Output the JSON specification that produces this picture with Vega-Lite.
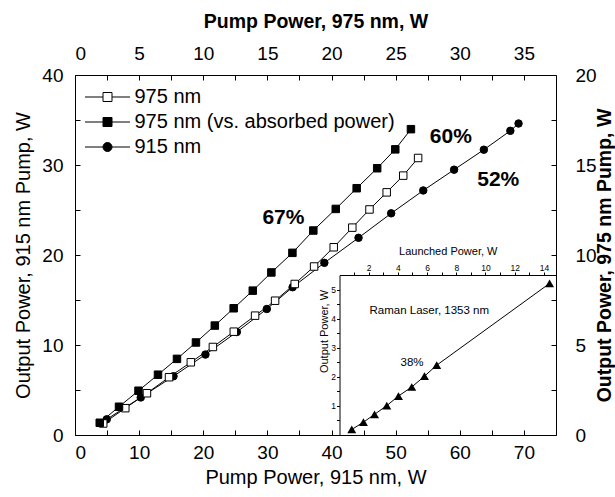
{
  "$schema": "https://vega.github.io/schema/vega-lite/v6.json",
  "width": 481,
  "height": 360,
  "autosize": {"type": "none"},
  "padding": {"left": 75, "top": 75, "right": 59, "bottom": 62},
  "background": "white",
  "config": {
    "view": {"stroke": null},
    "axis": {
      "domainColor": "black", "domainWidth": 1,
      "tickColor": "black", "tickWidth": 1,
      "labelColor": "black", "titleColor": "black",
      "labelFont": "Liberation Sans", "titleFont": "Liberation Sans",
      "grid": false
    },
    "text": {"font": "Liberation Sans", "color": "black"}
  },
  "datasets": {
    "pump915": [
      {"series": "915 nm", "pump": 4.95, "out": 1.74},
      {"series": "915 nm", "pump": 10.25, "out": 4.17},
      {"series": "915 nm", "pump": 15.36, "out": 6.53},
      {"series": "915 nm", "pump": 20.34, "out": 8.94},
      {"series": "915 nm", "pump": 25.23, "out": 11.44},
      {"series": "915 nm", "pump": 29.91, "out": 14.0},
      {"series": "915 nm", "pump": 33.93, "out": 16.42},
      {"series": "915 nm", "pump": 38.88, "out": 19.13},
      {"series": "915 nm", "pump": 44.21, "out": 21.91},
      {"series": "915 nm", "pump": 49.30, "out": 24.63},
      {"series": "915 nm", "pump": 54.30, "out": 27.17},
      {"series": "915 nm", "pump": 59.11, "out": 29.48},
      {"series": "915 nm", "pump": 63.75, "out": 31.7},
      {"series": "915 nm", "pump": 67.88, "out": 33.8},
      {"series": "915 nm", "pump": 69.16, "out": 34.61}
    ],
    "pump975": [
      {"series": "975 nm", "pump": 2.20, "out": 0.64},
      {"series": "975 nm", "pump": 3.92, "out": 1.49},
      {"series": "975 nm", "pump": 5.61, "out": 2.32},
      {"series": "975 nm", "pump": 7.33, "out": 3.21},
      {"series": "975 nm", "pump": 9.03, "out": 4.04},
      {"series": "975 nm", "pump": 10.75, "out": 4.89},
      {"series": "975 nm", "pump": 12.38, "out": 5.74},
      {"series": "975 nm", "pump": 14.04, "out": 6.63},
      {"series": "975 nm", "pump": 15.60, "out": 7.46},
      {"series": "975 nm", "pump": 17.13, "out": 8.39},
      {"series": "975 nm", "pump": 18.64, "out": 9.36},
      {"series": "975 nm", "pump": 20.17, "out": 10.43},
      {"series": "975 nm", "pump": 21.62, "out": 11.52},
      {"series": "975 nm", "pump": 22.96, "out": 12.53},
      {"series": "975 nm", "pump": 24.30, "out": 13.48},
      {"series": "975 nm", "pump": 25.59, "out": 14.41},
      {"series": "975 nm", "pump": 26.75, "out": 15.39},
      {"series": "975 nm (vs. absorbed power)", "pump": 1.93, "out": 0.68},
      {"series": "975 nm (vs. absorbed power)", "pump": 3.43, "out": 1.57},
      {"series": "975 nm (vs. absorbed power)", "pump": 4.95, "out": 2.46},
      {"series": "975 nm (vs. absorbed power)", "pump": 6.47, "out": 3.35},
      {"series": "975 nm (vs. absorbed power)", "pump": 7.95, "out": 4.23},
      {"series": "975 nm (vs. absorbed power)", "pump": 9.43, "out": 5.14},
      {"series": "975 nm (vs. absorbed power)", "pump": 10.90, "out": 6.08},
      {"series": "975 nm (vs. absorbed power)", "pump": 12.37, "out": 7.04},
      {"series": "975 nm (vs. absorbed power)", "pump": 13.86, "out": 8.02},
      {"series": "975 nm (vs. absorbed power)", "pump": 15.31, "out": 9.03},
      {"series": "975 nm (vs. absorbed power)", "pump": 16.95, "out": 10.12},
      {"series": "975 nm (vs. absorbed power)", "pump": 18.58, "out": 11.36},
      {"series": "975 nm (vs. absorbed power)", "pump": 20.33, "out": 12.56},
      {"series": "975 nm (vs. absorbed power)", "pump": 21.96, "out": 13.71},
      {"series": "975 nm (vs. absorbed power)", "pump": 23.56, "out": 14.82},
      {"series": "975 nm (vs. absorbed power)", "pump": 24.97, "out": 15.87},
      {"series": "975 nm (vs. absorbed power)", "pump": 26.19, "out": 16.99}
    ],
    "raman": [
      {"launched": 0.84, "out": 0.19},
      {"launched": 1.64, "out": 0.44},
      {"launched": 2.40, "out": 0.71},
      {"launched": 3.24, "out": 1.01},
      {"launched": 4.04, "out": 1.34},
      {"launched": 4.95, "out": 1.65},
      {"launched": 5.82, "out": 2.02},
      {"launched": 6.66, "out": 2.40},
      {"launched": 14.39, "out": 5.21}
    ],
    "mainNotes": [
      {"label": "67%", "pump": 32.5, "out": 24.1},
      {"label": "60%", "pump": 58.6, "out": 33.1},
      {"label": "52%", "pump": 66.0, "out": 28.3}
    ],
    "insetNotes": [
      {"label": "38%", "launched": 4.97, "out": 2.49},
      {"label": "Raman Laser, 1353 nm", "launched": 6.15, "out": 4.26}
    ]
  },
  "layer": [
    {
      "data": {"name": "pump915"},
      "encoding": {
        "x": {
          "field": "pump", "type": "quantitative",
          "scale": {"domain": [0, 75], "nice": false, "zero": false},
          "axis": {
            "orient": "bottom", "title": "Pump Power, 915 nm, W",
            "values": [0, 5, 10, 15, 20, 25, 30, 35, 40, 45, 50, 55, 60, 65, 70],
            "labelExpr": "datum.value % 10 === 0 ? datum.label : ''",
            "tickSize": -5, "labelPadding": 13, "labelFontSize": 19,
            "titleFontSize": 20, "titleFontWeight": "normal", "titlePadding": 5
          }
        },
        "y": {
          "field": "out", "type": "quantitative",
          "scale": {"domain": [0, 40], "nice": false, "zero": false},
          "axis": {
            "orient": "left", "title": "Output Power, 915 nm Pump, W",
            "values": [0, 5, 10, 15, 20, 25, 30, 35, 40],
            "labelExpr": "datum.value % 10 === 0 ? datum.label : ''",
            "tickSize": -5, "labelPadding": 17, "labelFontSize": 19,
            "titleFontSize": 20, "titleFontWeight": "normal", "titlePadding": 8
          }
        }
      },
      "layer": [
        {"mark": {"type": "line", "color": "black", "strokeWidth": 1}, "encoding": {}},
        {
          "mark": {"type": "point", "filled": true, "stroke": "black", "strokeWidth": 1, "size": 56, "opacity": 1},
          "encoding": {
            "shape": {
              "field": "series", "type": "nominal",
              "scale": {"domain": ["915 nm", "975 nm", "975 nm (vs. absorbed power)"], "range": ["circle", "square", "square"]},
              "legend": null
            },
            "fill": {
              "field": "series", "type": "nominal",
              "scale": {"domain": ["975 nm", "975 nm (vs. absorbed power)", "915 nm"], "range": ["white", "black", "black"]},
              "legend": {
                "orient": "none", "legendX": 2.5, "legendY": 12, "title": null,
                "padding": 0, "rowPadding": 5,
                "labelFont": "Liberation Sans", "labelFontSize": 20, "labelColor": "black", "labelLimit": 400,
                "symbolSize": 81, "symbolStrokeColor": "black", "symbolStrokeWidth": 1,
                "symbolOffset": 20, "labelOffset": 17,
                "symbolType": {"expr": "datum.value === '915 nm' ? 'M-5,0H-1M1,0H5M-1,0A1,1,0,1,1,1,0A1,1,0,1,1,-1,0Z' : 'M-5,0H-1M1,0H5M-1,-1H1V1H-1Z'"}
              }
            }
          }
        },
        {
          "data": {"name": "mainNotes"},
          "mark": {"type": "text", "font": "Liberation Sans", "fontWeight": "bold", "fontSize": 21, "align": "center", "baseline": "middle"},
          "encoding": {"text": {"field": "label"}}
        }
      ]
    },
    {
      "data": {"name": "pump975"},
      "encoding": {
        "x": {
          "field": "pump", "type": "quantitative",
          "scale": {"domain": [0, 37.5], "nice": false, "zero": false},
          "axis": {
            "orient": "top", "title": "Pump Power, 975 nm, W",
            "values": [0, 2.5, 5, 7.5, 10, 12.5, 15, 17.5, 20, 22.5, 25, 27.5, 30, 32.5, 35],
            "labelExpr": "datum.value % 5 === 0 ? datum.label : ''",
            "tickSize": -5, "labelPadding": 17, "labelFontSize": 19,
            "titleFontSize": 19.5, "titleFontWeight": "bold", "titlePadding": 13
          }
        },
        "y": {
          "field": "out", "type": "quantitative",
          "scale": {"domain": [0, 20], "nice": false, "zero": false},
          "axis": {
            "orient": "right", "title": "Output Power, 975 nm Pump, W",
            "values": [0, 2.5, 5, 7.5, 10, 12.5, 15, 17.5, 20],
            "labelExpr": "datum.value % 5 === 0 ? datum.label : ''",
            "tickSize": -5, "labelPadding": 24, "labelFontSize": 19,
            "titleFontSize": 19.5, "titleFontWeight": "bold",
            "titleAngle": 270, "titleBaseline": "top", "titlePadding": -1
          }
        }
      },
      "layer": [
        {"mark": {"type": "line", "color": "black", "strokeWidth": 1}, "encoding": {"detail": {"field": "series"}}},
        {
          "mark": {"type": "point", "filled": true, "stroke": "black", "strokeWidth": 1, "size": 56, "opacity": 1},
          "encoding": {
            "shape": {
              "field": "series", "type": "nominal",
              "scale": {"domain": ["915 nm", "975 nm", "975 nm (vs. absorbed power)"], "range": ["circle", "square", "square"]},
              "legend": null
            },
            "fill": {
              "field": "series", "type": "nominal",
              "scale": {"domain": ["975 nm", "975 nm (vs. absorbed power)", "915 nm"], "range": ["white", "black", "black"]},
              "legend": {
                "orient": "none", "legendX": 2.5, "legendY": 12, "title": null,
                "padding": 0, "rowPadding": 5,
                "labelFont": "Liberation Sans", "labelFontSize": 20, "labelColor": "black", "labelLimit": 400,
                "symbolSize": 81, "symbolStrokeColor": "black", "symbolStrokeWidth": 1,
                "symbolOffset": 20, "labelOffset": 17,
                "symbolType": {"expr": "datum.value === '915 nm' ? 'M-5,0H-1M1,0H5M-1,0A1,1,0,1,1,1,0A1,1,0,1,1,-1,0Z' : 'M-5,0H-1M1,0H5M-1,-1H1V1H-1Z'"}
              }
            }
          }
        }
      ]
    },
    {
      "data": {"name": "raman"},
      "encoding": {
        "x": {
          "field": "launched", "type": "quantitative",
          "scale": {"domain": [0, 14.83], "range": [264.5, 481], "nice": false, "zero": false},
          "axis": {
            "orient": "top", "offset": -200, "title": "Launched Power, W",
            "values": [1, 2, 3, 4, 5, 6, 7, 8, 9, 10, 11, 12, 13, 14],
            "labelExpr": "datum.value % 2 === 0 ? datum.label : ''",
            "tickSize": 3, "labelPadding": 0, "labelFontSize": 8.5,
            "titleFontSize": 11, "titleFontWeight": "normal", "titlePadding": 7
          }
        },
        "y": {
          "field": "out", "type": "quantitative",
          "scale": {"domain": [0, 5.5], "range": [360, 200], "nice": false, "zero": false},
          "axis": {
            "orient": "left", "offset": -264.5, "title": "Output Power, W",
            "values": [0.5, 1, 1.5, 2, 2.5, 3, 3.5, 4, 4.5, 5],
            "labelExpr": "datum.value % 1 === 0 ? '' + datum.value : ''",
            "tickSize": 3, "labelPadding": 1, "labelFontSize": 8.5,
            "titleFontSize": 11, "titleFontWeight": "normal", "titlePadding": 1, "titleY": 256
          }
        }
      },
      "layer": [
        {"mark": {"type": "line", "color": "black", "strokeWidth": 1}, "encoding": {}},
        {"mark": {"type": "point", "shape": "triangle-up", "filled": true, "color": "black", "size": 80, "opacity": 1}, "encoding": {}},
        {
          "data": {"name": "insetNotes"},
          "mark": {"type": "text", "font": "Liberation Sans", "fontSize": 11.5, "align": "center", "baseline": "middle"},
          "encoding": {"text": {"field": "label"}}
        }
      ]
    }
  ],
  "resolve": {"scale": {"x": "independent", "y": "independent"}}
}
